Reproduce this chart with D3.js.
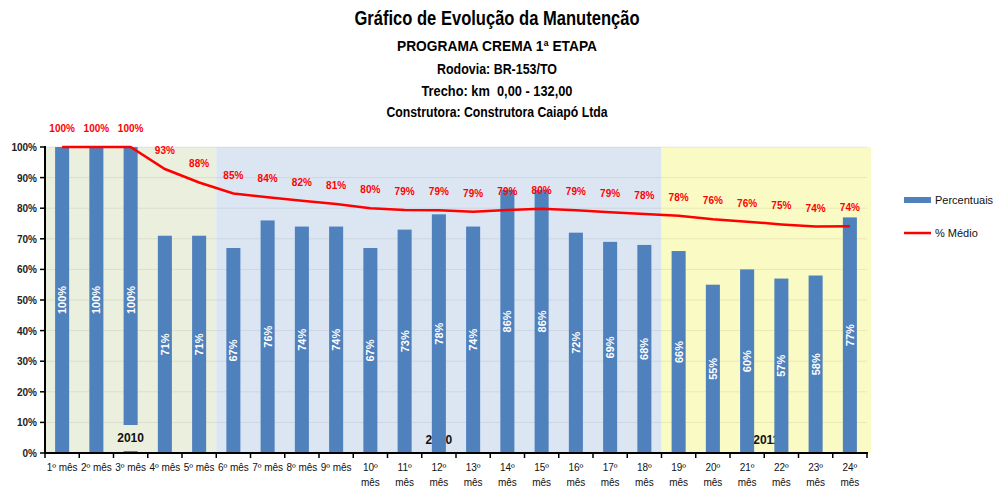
<!DOCTYPE html>
<html>
  <script src="https://d3js.org/d3.v7.min.js" type="text/JavaScript"></script>
  <style>
    body { margin: 0; background: #fff; }
    svg { font-family: "Liberation Sans", Arial, sans-serif; }
  </style>
  <body>
    <svg></svg>
    <script>
var meses = ['1º mês', '2º mês', '3º mês', '4º mês', '5º mês', '6º mês', '7º mês', '8º mês',
  '9º mês', '10º mês', '11º mês', '12º mês', '13º mês', '14º mês', '15º mês', '16º mês',
  '17º mês', '18º mês', '19º mês', '20º mês', '21º mês', '22º mês', '23º mês', '24º mês'];
var percentuais = [100, 100, 100, 71, 71, 67, 76, 74, 74, 67, 73, 78, 74, 86, 86, 72, 69, 68,
  66, 55, 60, 57, 58, 77];
var medio = [100, 100, 100, 92.8, 88.4, 84.8, 83.6, 82.4, 81.4, 80, 79.4, 79.3, 78.8, 79.4,
  79.8, 79.3, 78.7, 78.1, 77.5, 76.4, 75.6, 74.7, 74.0, 74.1];
var medioLabels = ['100%', '100%', '100%', '93%', '88%', '85%', '84%', '82%', '81%', '80%', '79%',
  '79%', '79%', '79%', '80%', '79%', '79%', '78%', '78%', '76%', '76%', '75%', '74%', '74%'];
var anos = ['2010', '2010', '2011'];
var anoInicio = ['1º mês', '6º mês', '19º mês'];
var anoFim = ['5º mês', '18º mês', '24º mês'];
var anoCores = ['#ebefdd', '#dce6f2', '#f9fac4'];
var yTicks = [0, 10, 20, 30, 40, 50, 60, 70, 80, 90, 100];
var titulos = ['Gráfico de Evolução da Manutenção', 'PROGRAMA CREMA 1ª ETAPA', 'Rodovia: BR-153/TO',
  'Trecho: km  0,00 - 132,00', 'Construtora: Construtora Caiapó Ltda'];

var W = 995, H = 491;
var svg = d3.select('svg').attr('width', W).attr('height', H);

var x = d3.scaleBand().domain(meses).range([45, 867]).paddingInner(0.59).paddingOuter(0.295);
var y = d3.scaleLinear().domain([0, 100]).range([453, 147]);
var pad = x.step() * 0.295;

// titles (Calibri is narrower, so squeeze to the reference width)
var titW = [285, 200, 120, 151, 221];
svg.selectAll('.tit').data(titulos).enter().append('text')
  .attr('x', 497).attr('y', (d, i) => [25, 51, 74, 96, 117][i])
  .attr('text-anchor', 'middle')
  .attr('textLength', (d, i) => titW[i])
  .attr('lengthAdjust', 'spacingAndGlyphs')
  .style('white-space', 'pre')
  .style('font-weight', 'bold')
  .style('font-size', (d, i) => i == 0 ? '20px' : '14px')
  .text(d => d);

// year backgrounds
var regioes = anos.map((a, i) => ({
  ano: a, cor: anoCores[i],
  x0: x(anoInicio[i]) - pad,
  x1: x(anoFim[i]) + x.bandwidth() + pad + (i == 2 ? 4 : 0)
}));
svg.selectAll('.reg').data(regioes).enter().append('rect')
  .attr('x', d => d.x0).attr('width', d => d.x1 - d.x0)
  .attr('y', y(100)).attr('height', y(0) - y(100))
  .style('fill', d => d.cor);

// grid
svg.selectAll('.grid').data(yTicks.slice(1)).enter().append('line')
  .attr('x1', 45).attr('x2', 867)
  .attr('y1', d => y(d)).attr('y2', d => y(d))
  .style('stroke', '#000').style('stroke-opacity', 0.07).style('stroke-width', 1);

// year labels behind bars (2nd and 3rd)
svg.selectAll('.ano').data(regioes.slice(1)).enter().append('text')
  .attr('x', d => (d.x0 + d.x1) / 2).attr('y', 444)
  .attr('text-anchor', 'middle')
  .style('font-weight', 'bold').style('font-size', '12px').style('fill', '#111')
  .text(d => d.ano);

// bars
svg.selectAll('.bar').data(percentuais).enter().append('rect')
  .attr('x', (d, i) => x(meses[i])).attr('width', x.bandwidth())
  .attr('y', d => y(d)).attr('height', d => y(0) - y(d))
  .style('fill', '#4f81bd');

// first year label in front of the bars
var r0 = regioes[0];
svg.append('rect')
  .attr('x', (r0.x0 + r0.x1) / 2 - 16).attr('width', 32)
  .attr('y', 425).attr('height', 26)
  .style('fill', r0.cor);
svg.append('text')
  .attr('x', (r0.x0 + r0.x1) / 2).attr('y', 442)
  .attr('text-anchor', 'middle')
  .style('font-weight', 'bold').style('font-size', '12px').style('fill', '#111')
  .text(r0.ano);

// bar value labels
svg.selectAll('.blab').data(percentuais).enter().append('text')
  .attr('transform', (d, i) => `translate(${x(meses[i]) + x.bandwidth() / 2 + 4}, ${(y(d) + y(0)) / 2}) rotate(-90)`)
  .attr('text-anchor', 'middle')
  .style('font-weight', 'bold').style('font-size', '11px').style('fill', '#fff')
  .text(d => d + '%');

// line
var line = d3.line()
  .x((d, i) => x(meses[i]) + x.bandwidth() / 2)
  .y(d => y(d));
svg.append('path').datum(medio)
  .attr('d', line)
  .style('fill', 'none').style('stroke', '#ff0000').style('stroke-width', 2.5);

svg.selectAll('.llab').data(medio).enter().append('text')
  .attr('x', (d, i) => x(meses[i]) + x.bandwidth() / 2)
  .attr('y', d => y(d) - 15)
  .attr('text-anchor', 'middle')
  .style('font-weight', 'bold').style('font-size', '10px').style('fill', '#ff0000')
  .text((d, i) => medioLabels[i]);

// axes
svg.append('line').attr('x1', 45).attr('x2', 45).attr('y1', y(100) - 1).attr('y2', y(0) + 1)
  .style('stroke', '#000').style('stroke-width', 2);
svg.append('line').attr('x1', 44).attr('x2', 868).attr('y1', y(0)).attr('y2', y(0))
  .style('stroke', '#000').style('stroke-width', 2);

svg.selectAll('.ytick').data(yTicks).enter().append('line')
  .attr('x1', 40).attr('x2', 45).attr('y1', d => y(d)).attr('y2', d => y(d))
  .style('stroke', '#000').style('stroke-width', 1.5);
svg.selectAll('.ylab').data(yTicks).enter().append('text')
  .attr('x', 37).attr('y', d => y(d) + 4)
  .attr('text-anchor', 'end')
  .style('font-weight', 'bold').style('font-size', '10px').style('fill', '#222')
  .text(d => d + '%');

var bordas = meses.map(m => x(m) - pad).concat([867]);
svg.selectAll('.xtick').data(bordas).enter().append('line')
  .attr('x1', d => d).attr('x2', d => d).attr('y1', y(0)).attr('y2', y(0) + 5)
  .style('stroke', '#000').style('stroke-width', 1.5);

var xl = svg.selectAll('.xlab').data(meses).enter().append('text')
  .attr('text-anchor', 'middle')
  .style('font-size', '10px').style('fill', '#111');
xl.each(function(d, i) {
  var cx = x(d) + x.bandwidth() / 2;
  var t = d3.select(this);
  if (i < 9) {
    t.append('tspan').attr('x', cx).attr('y', 471).text(d);
  } else {
    var p = d.split(' ');
    t.append('tspan').attr('x', cx).attr('y', 471).text(p[0]);
    t.append('tspan').attr('x', cx).attr('y', 486).text(p[1]);
  }
});

// legend
svg.append('rect').attr('x', 904).attr('y', 197).attr('width', 27).attr('height', 6)
  .style('fill', '#4f81bd');
svg.append('text').attr('x', 935).attr('y', 204)
  .style('font-size', '11px').style('fill', '#111').text('Percentuais');
svg.append('line').attr('x1', 904).attr('x2', 931).attr('y1', 233).attr('y2', 233)
  .style('stroke', '#ff0000').style('stroke-width', 2.5);
svg.append('text').attr('x', 935).attr('y', 237)
  .style('font-size', '11px').style('fill', '#111').text('% Médio');
    </script>
  </body>
</html>
